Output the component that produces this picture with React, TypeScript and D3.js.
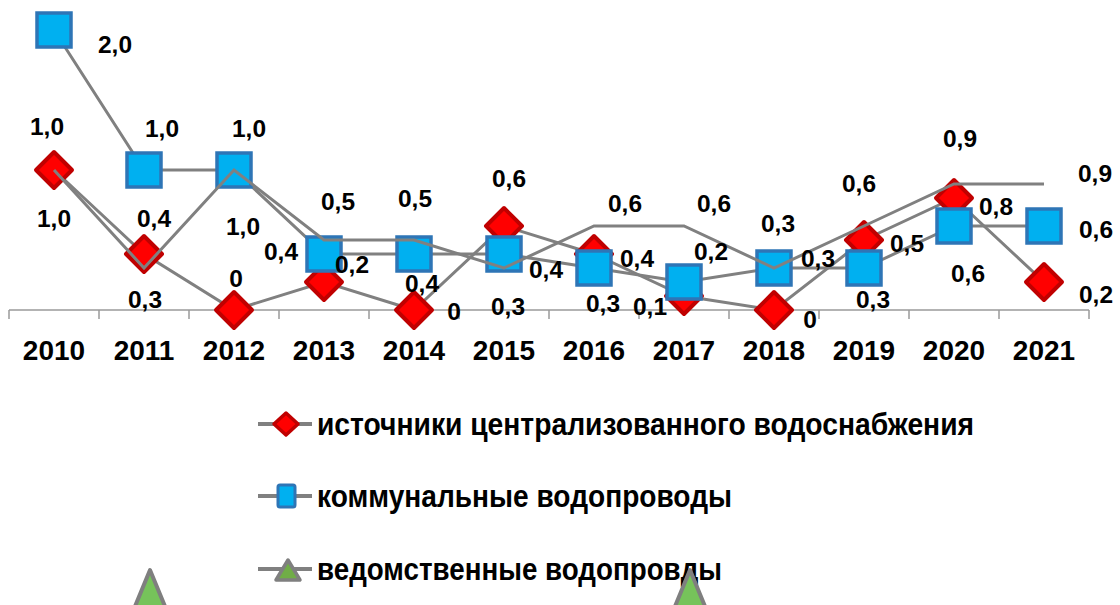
import React from "react";
import * as d3 from "d3";

const years = ["2010","2011","2012","2013","2014","2015","2016","2017","2018","2019","2020","2021"];
const sourcesValues = [1.0, 0.4, 0, 0.2, 0, 0.6, 0.4, 0.1, 0, 0.5, 0.8, 0.2];
const communalValues = [2.0, 1.0, 1.0, 0.4, 0.4, 0.4, 0.3, 0.2, 0.3, 0.3, 0.6, 0.6];
const departmentalValues = [1.0, 0.3, 1.0, 0.5, 0.5, 0.3, 0.6, 0.6, 0.3, 0.6, 0.9, 0.9];
const seriesNames = [
  "источники централизованного водоснабжения",
  "коммунальные водопроводы",
  "ведомственные водопровды",
];
const strayMarkerYears = ["2011", "2017"];

// label offsets (layout only)
const sourcesLabelOffsets = [[-7,-35],[10,-27],[2,-23],[28,-9],[40,10],[5,-39],[43,13],[-34,19],[36,18],[43,12],[42,17],[52,21]];
const communalLabelOffsets = [[61,23],[18,-33],[15,-33],[-43,6],[8,38],[42,24],[9,44],[27,-22],[44,-1],[9,40],[14,56],[52,12]];
const departmentalLabelOffsets = [[0,57],[1,40],[9,65],[14,-30],[1,-33],[4,47],[31,-14],[30,-14],[4,-36],[-5,-34],[6,-37],[51,-2]];

const FONT = "'Liberation Sans', Arial, sans-serif";
const LINE = "#808080";

const fmt = (v: number) => (v === 0 ? "0" : v.toFixed(1).replace(".", ","));

export default function App() {
  const W = 1120, H = 605;
  const x = d3.scaleBand<string>().domain(years).range([9, 1089]).padding(0);
  const cx = (yr: string) => (x(yr) as number) + x.bandwidth() / 2;
  const y = d3.scaleLinear().domain([0, 2]).range([310, 30]);
  const line = d3.line<number>().x((_, i) => cx(years[i])).y((v) => y(v));

  const diamond = (px: number, py: number, r: number) =>
    `M${px},${py - r}L${px + r},${py}L${px},${py + r}L${px - r},${py}Z`;

  const ticks = d3.range(years.length + 1).map((i) => 9 + i * x.bandwidth());

  const labels = (vals: number[], offs: number[][], key: string) =>
    vals.map((v, i) => (
      <text key={key + i} x={cx(years[i]) + offs[i][0]} y={y(v) + offs[i][1]}
        textAnchor="middle" fontFamily={FONT} fontWeight="bold" fontSize={24.5} fill="#000">
        {fmt(v)}
      </text>
    ));

  const legendRows = [424, 496, 569];
  const legendTextLen = [657, 415, 405];
  const triPath = (px: number, top: number, w: number, h: number) =>
    `M${px},${top}L${px + w / 2},${top + h}L${px - w / 2},${top + h}Z`;

  return (
    <svg width={W} height={H} style={{ position: "absolute", left: 0, top: 0, background: "#fff" }}>
      <rect width={W} height={H} fill="#fff" />
      {/* axis */}
      <line x1={9} x2={1089} y1={310} y2={310} stroke="#9a9a9a" strokeWidth={1.5} />
      {ticks.map((t, i) => (
        <line key={"t" + i} x1={t} x2={t} y1={310} y2={319} stroke="#9a9a9a" strokeWidth={1.5} />
      ))}
      {years.map((yr) => (
        <text key={"yr" + yr} x={cx(yr)} y={360} textAnchor="middle" fontFamily={FONT}
          fontWeight="bold" fontSize={28} fill="#000">{yr}</text>
      ))}

      {/* series 1 */}
      <path d={line(sourcesValues) || ""} fill="none" stroke={LINE} strokeWidth={3} />
      {sourcesValues.map((v, i) => (
        <path key={"d" + i} d={diamond(cx(years[i]), y(v), 18)} fill="#ff0000" stroke="#c00000" strokeWidth={4} strokeLinejoin="round" />
      ))}
      {/* series 2 */}
      <path d={line(communalValues) || ""} fill="none" stroke={LINE} strokeWidth={3} />
      {communalValues.map((v, i) => (
        <rect key={"s" + i} x={cx(years[i]) - 17} y={y(v) - 17} width={34} height={34}
          fill="#00b0f0" stroke="#2e75b6" strokeWidth={3.5} />
      ))}
      {/* series 3 */}
      <path d={line(departmentalValues) || ""} fill="none" stroke={LINE} strokeWidth={3} />

      {labels(sourcesValues, sourcesLabelOffsets, "l1")}
      {labels(communalValues, communalLabelOffsets, "l2")}
      {labels(departmentalValues, departmentalLabelOffsets, "l3")}

      {/* legend */}
      {legendRows.map((ly, i) => (
        <g key={"lg" + i}>
          <line x1={258} x2={312} y1={ly} y2={ly} stroke={LINE} strokeWidth={4} />
          {i === 0 && (
            <path d={`M286,${ly - 11}L298,${ly}L286,${ly + 11}L274,${ly}Z`} fill="#ff0000" stroke="#c00000" strokeWidth={3.5} strokeLinejoin="round" />
          )}
          {i === 1 && (
            <rect x={278} y={ly - 11} width={17} height={22} rx={2} fill="#00b0f0" stroke="#2e75b6" strokeWidth={3} />
          )}
          {i === 2 && (
            <path d={triPath(288, ly - 9, 24, 20)} fill="#70ad47" stroke="#7f7f7f" strokeWidth={3.5} strokeLinejoin="round" />
          )}
          <text x={317} y={ly + 11} fontFamily={FONT} fontWeight="bold" fontSize={32} fill="#000"
            textLength={legendTextLen[i]} lengthAdjust="spacingAndGlyphs">{seriesNames[i]}</text>
        </g>
      ))}

      {/* stray markers of the third series */}
      {strayMarkerYears.map((yr) => (
        <path key={"st" + yr} d={triPath(cx(yr) + 6, 570, 33, 40)} fill="#76c35a" stroke="#7f7f7f" strokeWidth={4} strokeLinejoin="round" />
      ))}
    </svg>
  );
}
